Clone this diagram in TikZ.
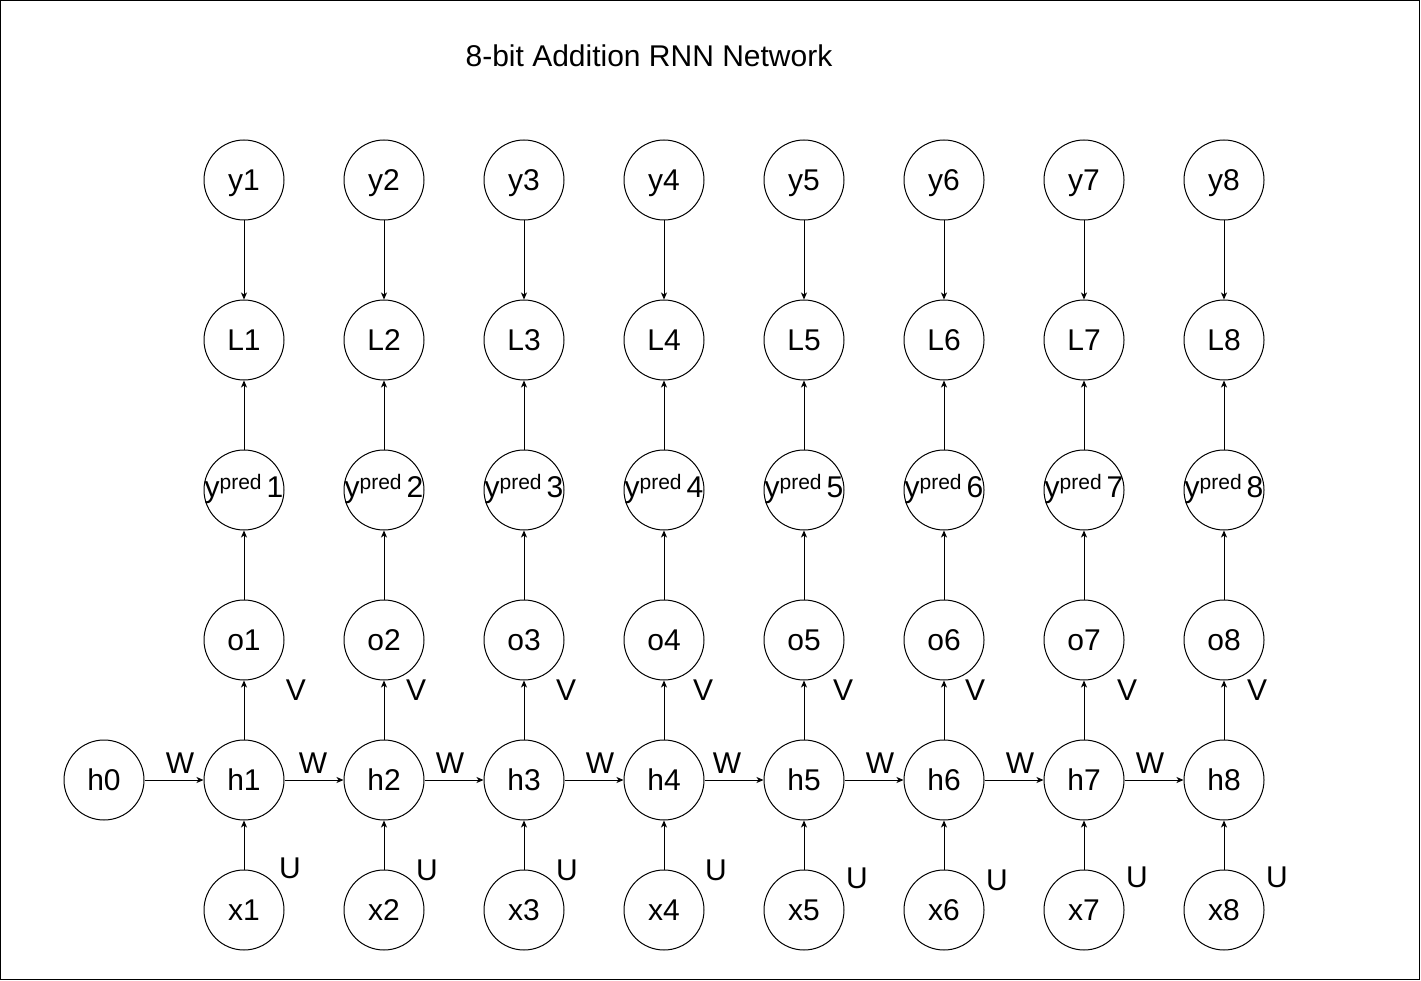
\documentclass[tikz,border=0pt]{standalone}
\usepackage{fontspec}
\setmainfont{Liberation Sans}
\usetikzlibrary{arrows.meta}
\begin{document}
\begin{tikzpicture}[x=1pt,y=-1pt,
  circ/.style={circle, draw, line width=1pt, minimum size=80pt, inner sep=0pt,
    font=\fontsize{30}{34}\selectfont, text height=21pt, text depth=0pt},
  lbl/.style={inner sep=0pt, font=\fontsize{30}{34}\selectfont, text height=21pt, text depth=0pt},
  arr/.style={line width=1pt, -{Stealth[length=7pt,width=6pt,inset=2pt]}}]
\useasboundingbox (0,0) rectangle (1421,981);
\draw[line width=1pt] (0.5,0.5) rectangle (1419.5,979.5);
\node[lbl] (title) at (649,56) {8-bit Addition RNN Network};
\node[circ] (h0) at (104,780) {h0};
\foreach \i in {1,...,8} {
  \pgfmathsetmacro\xx{104+140*\i}
  \node[circ] (y\i) at (\xx,180) {y\i};
  \node[circ] (L\i) at (\xx,340) {L\i};
  \node[circ, text height=14pt] (p\i) at (\xx,490) {y\raisebox{8pt}{\fontsize{21}{24}\selectfont pred}\hspace{5pt}\i};
  \node[circ] (o\i) at (\xx,640) {o\i};
  \node[circ] (h\i) at (\xx,780) {h\i};
  \node[circ] (x\i) at (\xx,910) {x\i};
}
\foreach \i in {1,...,8} {
  \draw[arr] (y\i) -- (L\i);
  \draw[arr] (p\i) -- (L\i);
  \draw[arr] (o\i) -- (p\i);
  \draw[arr] (h\i) -- (o\i);
  \draw[arr] (x\i) -- (h\i);
}
\foreach \i [count=\j from 0] in {1,...,8} {
  \draw[arr] (h\j) -- (h\i);
}
\foreach \i/\vx/\wx/\ux/\uy in {1/296/180/290/868, 2/416/313/427/870, 3/566/450/567/870, 4/703/600/716/870,
    5/843/727/857/878, 6/975/880/997/880, 7/1127/1020/1137/877, 8/1257/1150/1277/877} {
  \node[lbl] (V\i) at (\vx,690) {V};
  \node[lbl] (W\i) at (\wx,763) {W};
  \node[lbl] (U\i) at (\ux,\uy) {U};
}
\end{tikzpicture}
\end{document}
